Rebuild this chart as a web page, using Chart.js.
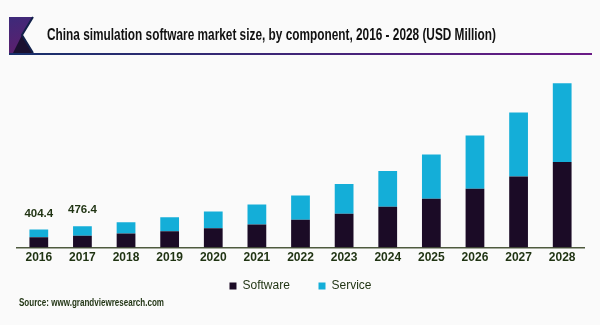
<!DOCTYPE html>
<html>
<head>
<meta charset="utf-8">
<script src="https://cdn.jsdelivr.net/npm/chart.js"></script>
<style>
  html, body { margin: 0; padding: 0; background: #fafafa; }
  #wrap { width: 600px; height: 325px; }
</style>
</head>
<body>
<div id="wrap"><canvas id="chart" width="600" height="325"></canvas></div>
<script>
// Values (USD Million)
const years = ['2016', '2017', '2018', '2019', '2020', '2021', '2022', '2023', '2024', '2025', '2026', '2027', '2028'];
const software = [230.2, 262.1, 314, 365, 432, 515, 620, 755, 912, 1091, 1315, 1590, 1911];
const service = [174.2, 214.3, 253, 314, 374, 448, 544, 663, 797, 986, 1187, 1427, 1756];
const totalLabels = ['404.4', '476.4'];

const titleText = 'China simulation software market size, by component, 2016 - 2028 (USD Million)';
const sourceText = 'Source: www.grandviewresearch.com';
const sans = '"Liberation Sans", Arial, sans-serif';
const textGreen = '#1f3312';

// draw text squeezed to a given width
function fitText(ctx, text, x, y, width, font, color) {
  ctx.save();
  ctx.font = font;
  ctx.fillStyle = color;
  ctx.textBaseline = 'alphabetic';
  const w = ctx.measureText(text).width;
  ctx.translate(x, y);
  ctx.scale(width / w, 1);
  ctx.fillText(text, 0, 0);
  ctx.restore();
}

const decorPlugin = {
  id: 'decor',
  beforeDraw(chart) {
    const ctx = chart.ctx;
    ctx.save();
    ctx.fillStyle = '#fafafa';
    ctx.fillRect(0, 0, chart.width, chart.height);

    // logo
    const g = ctx.createLinearGradient(9, 17, 20, 53);
    g.addColorStop(0, '#3d2a7a');
    g.addColorStop(1, '#5c1f6e');
    ctx.fillStyle = g;
    ctx.beginPath();
    ctx.moveTo(9, 17);
    ctx.lineTo(33, 17);
    ctx.lineTo(22, 35);
    ctx.lineTo(33, 53);
    ctx.lineTo(9, 53);
    ctx.closePath();
    ctx.fill();
    ctx.fillStyle = '#1a1030';
    ctx.beginPath();
    ctx.moveTo(22, 35);
    ctx.lineTo(33, 53);
    ctx.lineTo(13, 53);
    ctx.closePath();
    ctx.fill();
    ctx.strokeStyle = '#12204a';
    ctx.lineWidth = 2;
    ctx.beginPath();
    ctx.moveTo(33, 17);
    ctx.lineTo(22, 35);
    ctx.lineTo(33, 53);
    ctx.stroke();

    // underline
    const lg = ctx.createLinearGradient(9, 0, 592, 0);
    lg.addColorStop(0, '#17306a');
    lg.addColorStop(1, '#6a1a86');
    ctx.strokeStyle = lg;
    ctx.lineWidth = 2;
    ctx.beginPath();
    ctx.moveTo(9, 54);
    ctx.lineTo(592, 54);
    ctx.stroke();
    ctx.restore();

    fitText(ctx, titleText, 47, 40, 449, 'bold 16px ' + sans, '#111111');
    fitText(ctx, sourceText, 19, 306, 145, 'bold 10px ' + sans, textGreen);
  },
  afterDatasetsDraw(chart) {
    const ctx = chart.ctx;
    const meta = chart.getDatasetMeta(1);
    ctx.save();
    ctx.font = 'bold 11.5px ' + sans;
    ctx.fillStyle = textGreen;
    ctx.textAlign = 'center';
    ctx.textBaseline = 'middle';
    totalLabels.forEach((t, i) => {
      const bar = meta.data[i];
      ctx.fillText(t, bar.x, bar.y - 16);
    });
    ctx.restore();
  }
};

new Chart(document.getElementById('chart'), {
  type: 'bar',
  data: {
    labels: years,
    datasets: [
      { label: 'Software', data: software, backgroundColor: '#1b0b26' },
      { label: 'Service', data: service, backgroundColor: '#14aed8' }
    ]
  },
  options: {
    responsive: false,
    animation: false,
    layout: { padding: { top: 68, left: 17, right: 16, bottom: 23 } },
    datasets: { bar: { categoryPercentage: 1, barPercentage: 0.43 } },
    plugins: {
      legend: {
        position: 'bottom',
        labels: {
          boxWidth: 7,
          boxHeight: 7,
          padding: 12,
          color: textGreen,
          font: { family: sans, size: 12 },
          generateLabels(chart) {
            const items = Chart.defaults.plugins.legend.labels.generateLabels(chart);
            // wider gap after the first entry
            items[0].text = items[0].text + '     ';
            return items;
          }
        }
      },
      tooltip: { enabled: false },
      title: { display: false }
    },
    scales: {
      x: {
        stacked: true,
        grid: { display: false, drawTicks: false },
        border: { display: true, color: '#4e5a3e', width: 1.5 },
        ticks: {
          color: textGreen,
          padding: 3,
          font: { family: sans, size: 12, weight: 'bold' }
        }
      },
      y: {
        stacked: true,
        display: false,
        min: 0,
        max: 4010
      }
    }
  },
  plugins: [decorPlugin]
});
</script>
</body>
</html>
